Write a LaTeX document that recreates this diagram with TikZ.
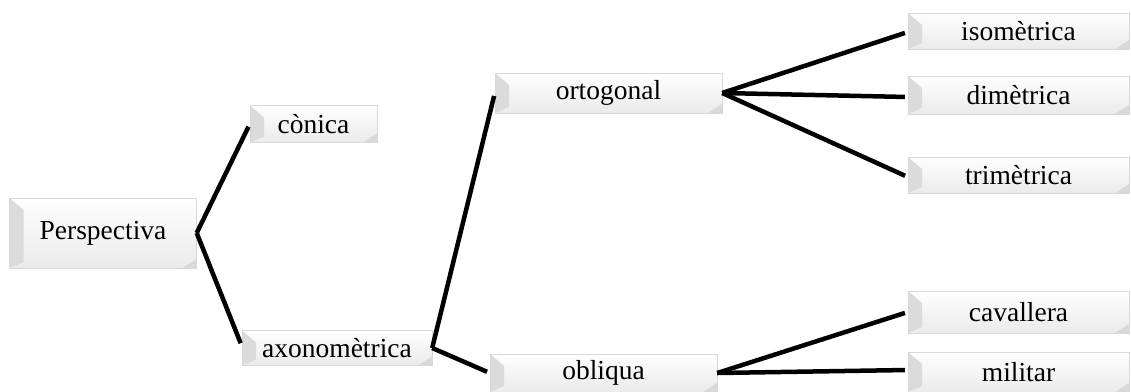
\documentclass[tikz,border=0pt]{standalone}
\usepackage{fontspec}
\setmainfont{Liberation Serif}
\usetikzlibrary{calc}

\begin{document}
\begin{tikzpicture}[x=1pt, y=-1pt,
  plaque/.style={draw=gray!30, top color=white, bottom color=gray!16, inner sep=0pt, font=\fontsize{27.5}{30}\selectfont,
    path picture={
      \fill[gray!28] (path picture bounding box.north west) -- ([shift={(14pt,-12pt)}]path picture bounding box.north west)
        -- ([shift={(14pt,6pt)}]path picture bounding box.south west) -- (path picture bounding box.south west) -- cycle;
      \fill[gray!30] (path picture bounding box.south east) -- ([xshift=-14pt]path picture bounding box.south east)
        -- ([yshift=9pt]path picture bounding box.south east) -- cycle;
    }},
  link/.style={line width=4.5pt, shorten >=3pt}
]
  \useasboundingbox (0,0) rectangle (1131,391);

  \node[plaque, minimum width=187pt, minimum height=70pt] (persp) at (103,233) {Perspectiva};
  \node[plaque, minimum width=127pt, minimum height=37pt] (conica) at (313.5,124) {cònica};
  \node[plaque, minimum width=190pt, minimum height=35pt] (axon) at (337,348) {axonomètrica};
  \node[plaque, minimum width=227pt, minimum height=40pt] (ortog) at (608.5,93) {ortogonal};
  \node[plaque, minimum width=227pt, minimum height=38pt] (obliq) at (603.5,373) {obliqua};
  \node[plaque, minimum width=221pt, minimum height=36pt] (iso) at (1018.5,31) {isomètrica};
  \node[plaque, minimum width=221pt, minimum height=38pt] (dim) at (1018.5,95) {dimètrica};
  \node[plaque, minimum width=221pt, minimum height=36pt] (tri) at (1018.5,175) {trimètrica};
  \node[plaque, minimum width=221pt, minimum height=42pt] (cav) at (1018.5,312) {cavallera};
  \node[plaque, minimum width=221pt, minimum height=40pt] (mil) at (1018.5,372) {militar};

  \draw[link] (persp.east) -- (conica.west);
  \draw[link] (persp.east) -- ([yshift=2pt]axon.west);
  \draw[link] (axon.east) -- (ortog.west);
  \draw[link] (axon.east) -- (obliq.west);
  \draw[link] (ortog.east) -- ([yshift=-1pt]iso.west);
  \draw[link] (ortog.east) -- ([yshift=-2pt]dim.west);
  \draw[link] (ortog.east) -- ([yshift=-2pt]tri.west);
  \draw[link] (obliq.east) -- (cav.west);
  \draw[link] (obliq.east) -- ([yshift=2pt]mil.west);
\end{tikzpicture}
\end{document}
